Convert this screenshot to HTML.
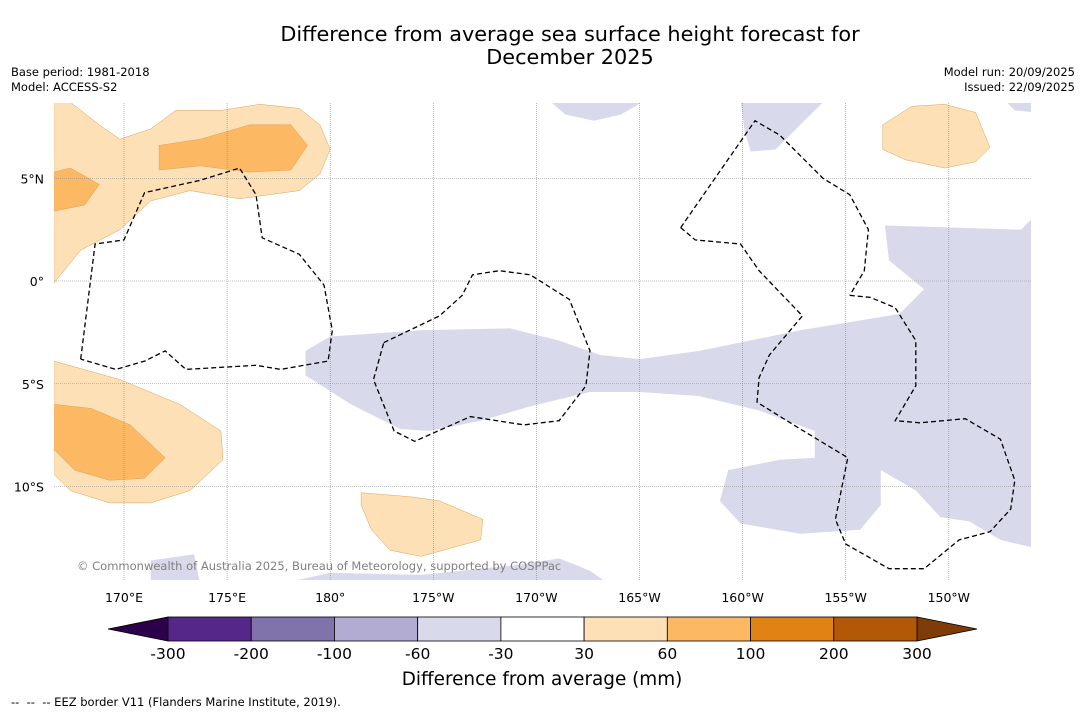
<!DOCTYPE html>
<html><head><meta charset="utf-8"><style>
body{margin:0;background:#fff;font-family:"DejaVu Sans","Liberation Sans",sans-serif;}
#wrap{position:relative;width:1085px;height:713px;overflow:hidden;background:#fff}
svg text{font-family:"DejaVu Sans","Liberation Sans",sans-serif;}
</style></head><body>
<div id="wrap">
<svg id="svg" width="1085" height="713" xmlns="http://www.w3.org/2000/svg">
<text x="570" y="41" font-size="20.8" text-anchor="middle" fill="#000">Difference from average sea surface height forecast for</text>
<text x="570" y="64" font-size="20.8" text-anchor="middle" fill="#000">December 2025</text>
<text x="11" y="76" font-size="11.5">Base period: 1981-2018</text>
<text x="11" y="91" font-size="11.5">Model: ACCESS-S2</text>
<text x="1075" y="76" font-size="11.5" text-anchor="end">Model run: 20/09/2025</text>
<text x="1075" y="91" font-size="11.5" text-anchor="end">Issued: 22/09/2025</text>
<defs><clipPath id="mapclip"><rect x="54" y="103" width="977" height="477"/></clipPath></defs>
<g id="map" clip-path="url(#mapclip)"></g>
<g id="grid"></g>
<g id="eez" clip-path="url(#mapclip)"></g>
<text x="77" y="570" font-size="11.5" fill="#808080">© Commonwealth of Australia 2025, Bureau of Meteorology, supported by COSPPac</text>
<g id="axes"></g>
<g id="cbar"></g>
<text x="542" y="685" font-size="18.4" text-anchor="middle">Difference from average (mm)</text>
<text x="11" y="706" font-size="11.5">-- &#160;-- &#160;-- EEZ border V11 (Flanders Marine Institute, 2019).</text>
</svg>
</div>
<script>
const NS="http://www.w3.org/2000/svg";
const lonTicks=[170,175,180,185,190,195,200,205,210];
const lonLabels=["170°E","175°E","180°","175°W","170°W","165°W","160°W","155°W","150°W"];
const latTicks=[5,0,-5,-10];
const latLabels=["5°N","0°","5°S","10°S"];
const cbBounds=["-300","-200","-100","-60","-30","30","60","100","200","300"];
const cbColors=["#542788","#8073ac","#b2abd2","#d8daeb","#ffffff","#fee0b6","#fdb863","#e08214","#b35806"];
const cbExtLow="#2d004b", cbExtHigh="#7f3b08";
const regions=[
 {c:5,pts:[[166.6,8.7],[167.4,8.7],[168.8,7.6],[169.8,6.9],[171.3,7.4],[172.5,8.3],[174.7,8.3],[176.6,8.6],[178.5,8.4],[179.5,7.6],[180.0,6.4],[179.5,5.2],[178.5,4.4],[175.6,4.0],[173.2,4.4],[171.3,3.9],[169.8,2.5],[167.9,1.5],[166.6,-0.1]]},
 {c:6,pts:[[171.7,6.6],[173.7,6.9],[176.1,7.6],[178.1,7.6],[178.9,6.6],[178.1,5.4],[176.1,5.3],[173.7,5.6],[171.7,5.4]]},
 {c:6,pts:[[166.6,5.3],[167.4,5.5],[168.8,4.7],[168.1,3.7],[166.6,3.4]]},
 {c:5,pts:[[166.6,-3.9],[169.8,-4.8],[172.7,-6.0],[174.7,-7.3],[174.8,-8.7],[173.2,-10.2],[171.3,-10.8],[169.3,-10.8],[167.4,-10.2],[166.6,-9.4]]},
 {c:6,pts:[[166.6,-6.0],[168.4,-6.2],[170.3,-7.0],[172.0,-8.6],[171.0,-9.6],[169.3,-9.7],[167.6,-9.2],[166.6,-8.2]]},
 {c:5,pts:[[181.5,-10.3],[183.9,-10.5],[185.3,-10.7],[187.4,-11.6],[187.3,-12.6],[184.4,-13.4],[182.9,-13.1],[182.0,-12.1],[181.5,-10.9]]},
 {c:5,pts:[[206.8,7.6],[208.2,8.5],[209.8,8.6],[211.3,8.2],[212.0,6.5],[211.3,5.8],[209.8,5.5],[207.9,5.9],[206.8,6.4]]},
 {c:3,pts:[[178.8,-3.4],[180.0,-2.7],[184.4,-2.4],[188.7,-2.3],[191.1,-2.9],[193.1,-3.6],[195.0,-3.8],[197.9,-3.4],[202.8,-2.4],[207.6,-1.6],[208.8,-0.4],[207.1,1.0],[206.9,2.7],[213.5,2.5],[214.2,3.2],[214.2,-13.0],[212.5,-12.6],[211.0,-11.7],[209.6,-11.5],[208.4,-10.2],[206.7,-9.2],[206.7,-10.9],[205.7,-12.1],[202.8,-12.3],[199.9,-11.8],[198.9,-10.7],[199.3,-9.2],[201.8,-8.7],[203.5,-8.6],[203.5,-7.3],[200.8,-6.3],[197.9,-5.6],[195.0,-5.4],[192.6,-5.4],[189.7,-6.1],[187.3,-6.8],[184.8,-7.3],[183.4,-7.2],[181.0,-6.0],[178.8,-4.6]]},
 {c:3,pts:[[190.6,8.8],[195.3,8.8],[194.1,8.1],[192.8,7.8],[191.4,8.1]]},
 {c:3,pts:[[199.9,8.8],[204.0,8.8],[202.8,7.6],[201.6,6.4],[200.4,6.3],[200.1,7.3]]},
 {c:3,pts:[[212.7,8.8],[214.2,8.8],[214.2,8.2],[213.2,8.3]]},
 {c:3,pts:[[177.3,-14.8],[180.0,-14.2],[184.4,-14.3],[189.2,-13.8],[191.1,-13.5],[192.6,-14.1],[193.6,-14.8]]},
 {c:3,pts:[[171.3,-13.6],[173.4,-13.3],[173.7,-14.8],[171.3,-14.8]]}
];
const eezLines=[
 [[167.9,-3.8],[168.6,1.8],[170.0,2.0],[171.0,4.3],[173.7,4.9],[175.6,5.5],[176.4,4.2],[176.7,2.1],[178.5,1.3],[179.7,-0.2],[180.1,-2.4],[179.9,-3.9],[177.6,-4.3],[176.4,-4.1],[173.0,-4.3],[172.0,-3.4],[171.0,-3.9],[169.6,-4.3],[167.9,-3.8]],
 [[182.6,-3.0],[185.3,-1.7],[186.4,-0.7],[186.9,0.3],[188.2,0.5],[189.7,0.3],[191.6,-0.9],[192.6,-3.4],[192.4,-5.1],[191.1,-6.8],[189.4,-7.0],[186.8,-6.6],[184.1,-7.8],[183.1,-7.3],[182.1,-4.8],[182.6,-3.0]],
 [[197.0,2.6],[200.6,7.8],[201.8,7.1],[203.9,5.0],[205.2,4.2],[206.1,2.5],[205.9,0.5],[205.2,-0.7]],
 [[197.0,2.6],[197.7,2.0],[199.9,1.8],[200.8,0.5],[202.9,-1.7],[201.3,-3.6],[200.8,-4.7],[200.7,-5.9],[202.8,-7.2],[205.1,-8.6],[204.5,-11.6],[205.0,-12.8],[207.1,-14.0],[208.8,-14.0],[210.5,-12.6],[212.0,-12.2],[213.0,-11.1],[213.2,-9.7],[212.5,-7.7],[210.8,-6.7],[208.6,-6.9],[207.4,-6.8],[208.4,-5.1],[208.4,-2.9],[207.4,-1.3],[206.2,-0.8],[205.2,-0.7]]
];
const X=lon=>124+(lon-170)*20.62;
const Y=lat=>281-lat*20.55;
function mk(tag,attrs,parent){const e=document.createElementNS(NS,tag);for(const k in attrs)e.setAttribute(k,attrs[k]);parent.appendChild(e);return e;}
const map=document.getElementById('map');
regions.forEach((r,i)=>{
 const p=mk('polygon',{points:r.pts.map(q=>X(q[0]).toFixed(1)+','+Y(q[1]).toFixed(1)).join(' '),fill:cbColors[r.c],stroke:r.c>=5?'#d9a35a':'none','stroke-width':0.5},map);
 
 
});
const grid=document.getElementById('grid');
const axes=document.getElementById('axes');
lonTicks.forEach((l,i)=>{
 const g=mk('line',{x1:X(l),x2:X(l),y1:103,y2:580,stroke:'#888','stroke-width':0.6,'stroke-dasharray':'1,1'},grid);
 
 
 const t=mk('text',{x:X(l),y:602,'font-size':12.5,'text-anchor':'middle'},axes);t.textContent=lonLabels[i];
 
 
});
latTicks.forEach((l,i)=>{
 const g=mk('line',{x1:54,x2:1031,y1:Y(l),y2:Y(l),stroke:'#888','stroke-width':0.6,'stroke-dasharray':'1,1'},grid);
 
 
 const t=mk('text',{x:44,y:Y(l)+5,'font-size':12.5,'text-anchor':'end'},axes);t.textContent=latLabels[i];
 
 
});
const eez=document.getElementById('eez');
eezLines.forEach(ln=>{
 const p=mk('polyline',{points:ln.map(q=>X(q[0]).toFixed(1)+','+Y(q[1]).toFixed(1)).join(' '),fill:'none',stroke:'#000','stroke-width':1.3,'stroke-dasharray':'5,3'},eez);
 
 
});
const cb=document.getElementById('cbar');
const cx0=168,cx1=917,cy=617,ch=24,n=cbColors.length,w=(cx1-cx0)/n;
const lo=mk('polygon',{points:`108,${cy+ch/2} ${cx0},${cy} ${cx0},${cy+ch}`,fill:cbExtLow,stroke:'#000','stroke-width':0.8},cb);


const hi=mk('polygon',{points:`977,${cy+ch/2} ${cx1},${cy} ${cx1},${cy+ch}`,fill:cbExtHigh,stroke:'#000','stroke-width':0.8},cb);


cbColors.forEach((c,i)=>{
 const r=mk('rect',{x:cx0+i*w,y:cy,width:w,height:ch,fill:c,stroke:'#000','stroke-width':0.8},cb);
 
 
});
cbBounds.forEach((b,i)=>{
 const t=mk('text',{x:cx0+i*w,y:659,'font-size':15.5,'text-anchor':'middle'},cb);t.textContent=b;
 
 
});
</script>
</body></html>
